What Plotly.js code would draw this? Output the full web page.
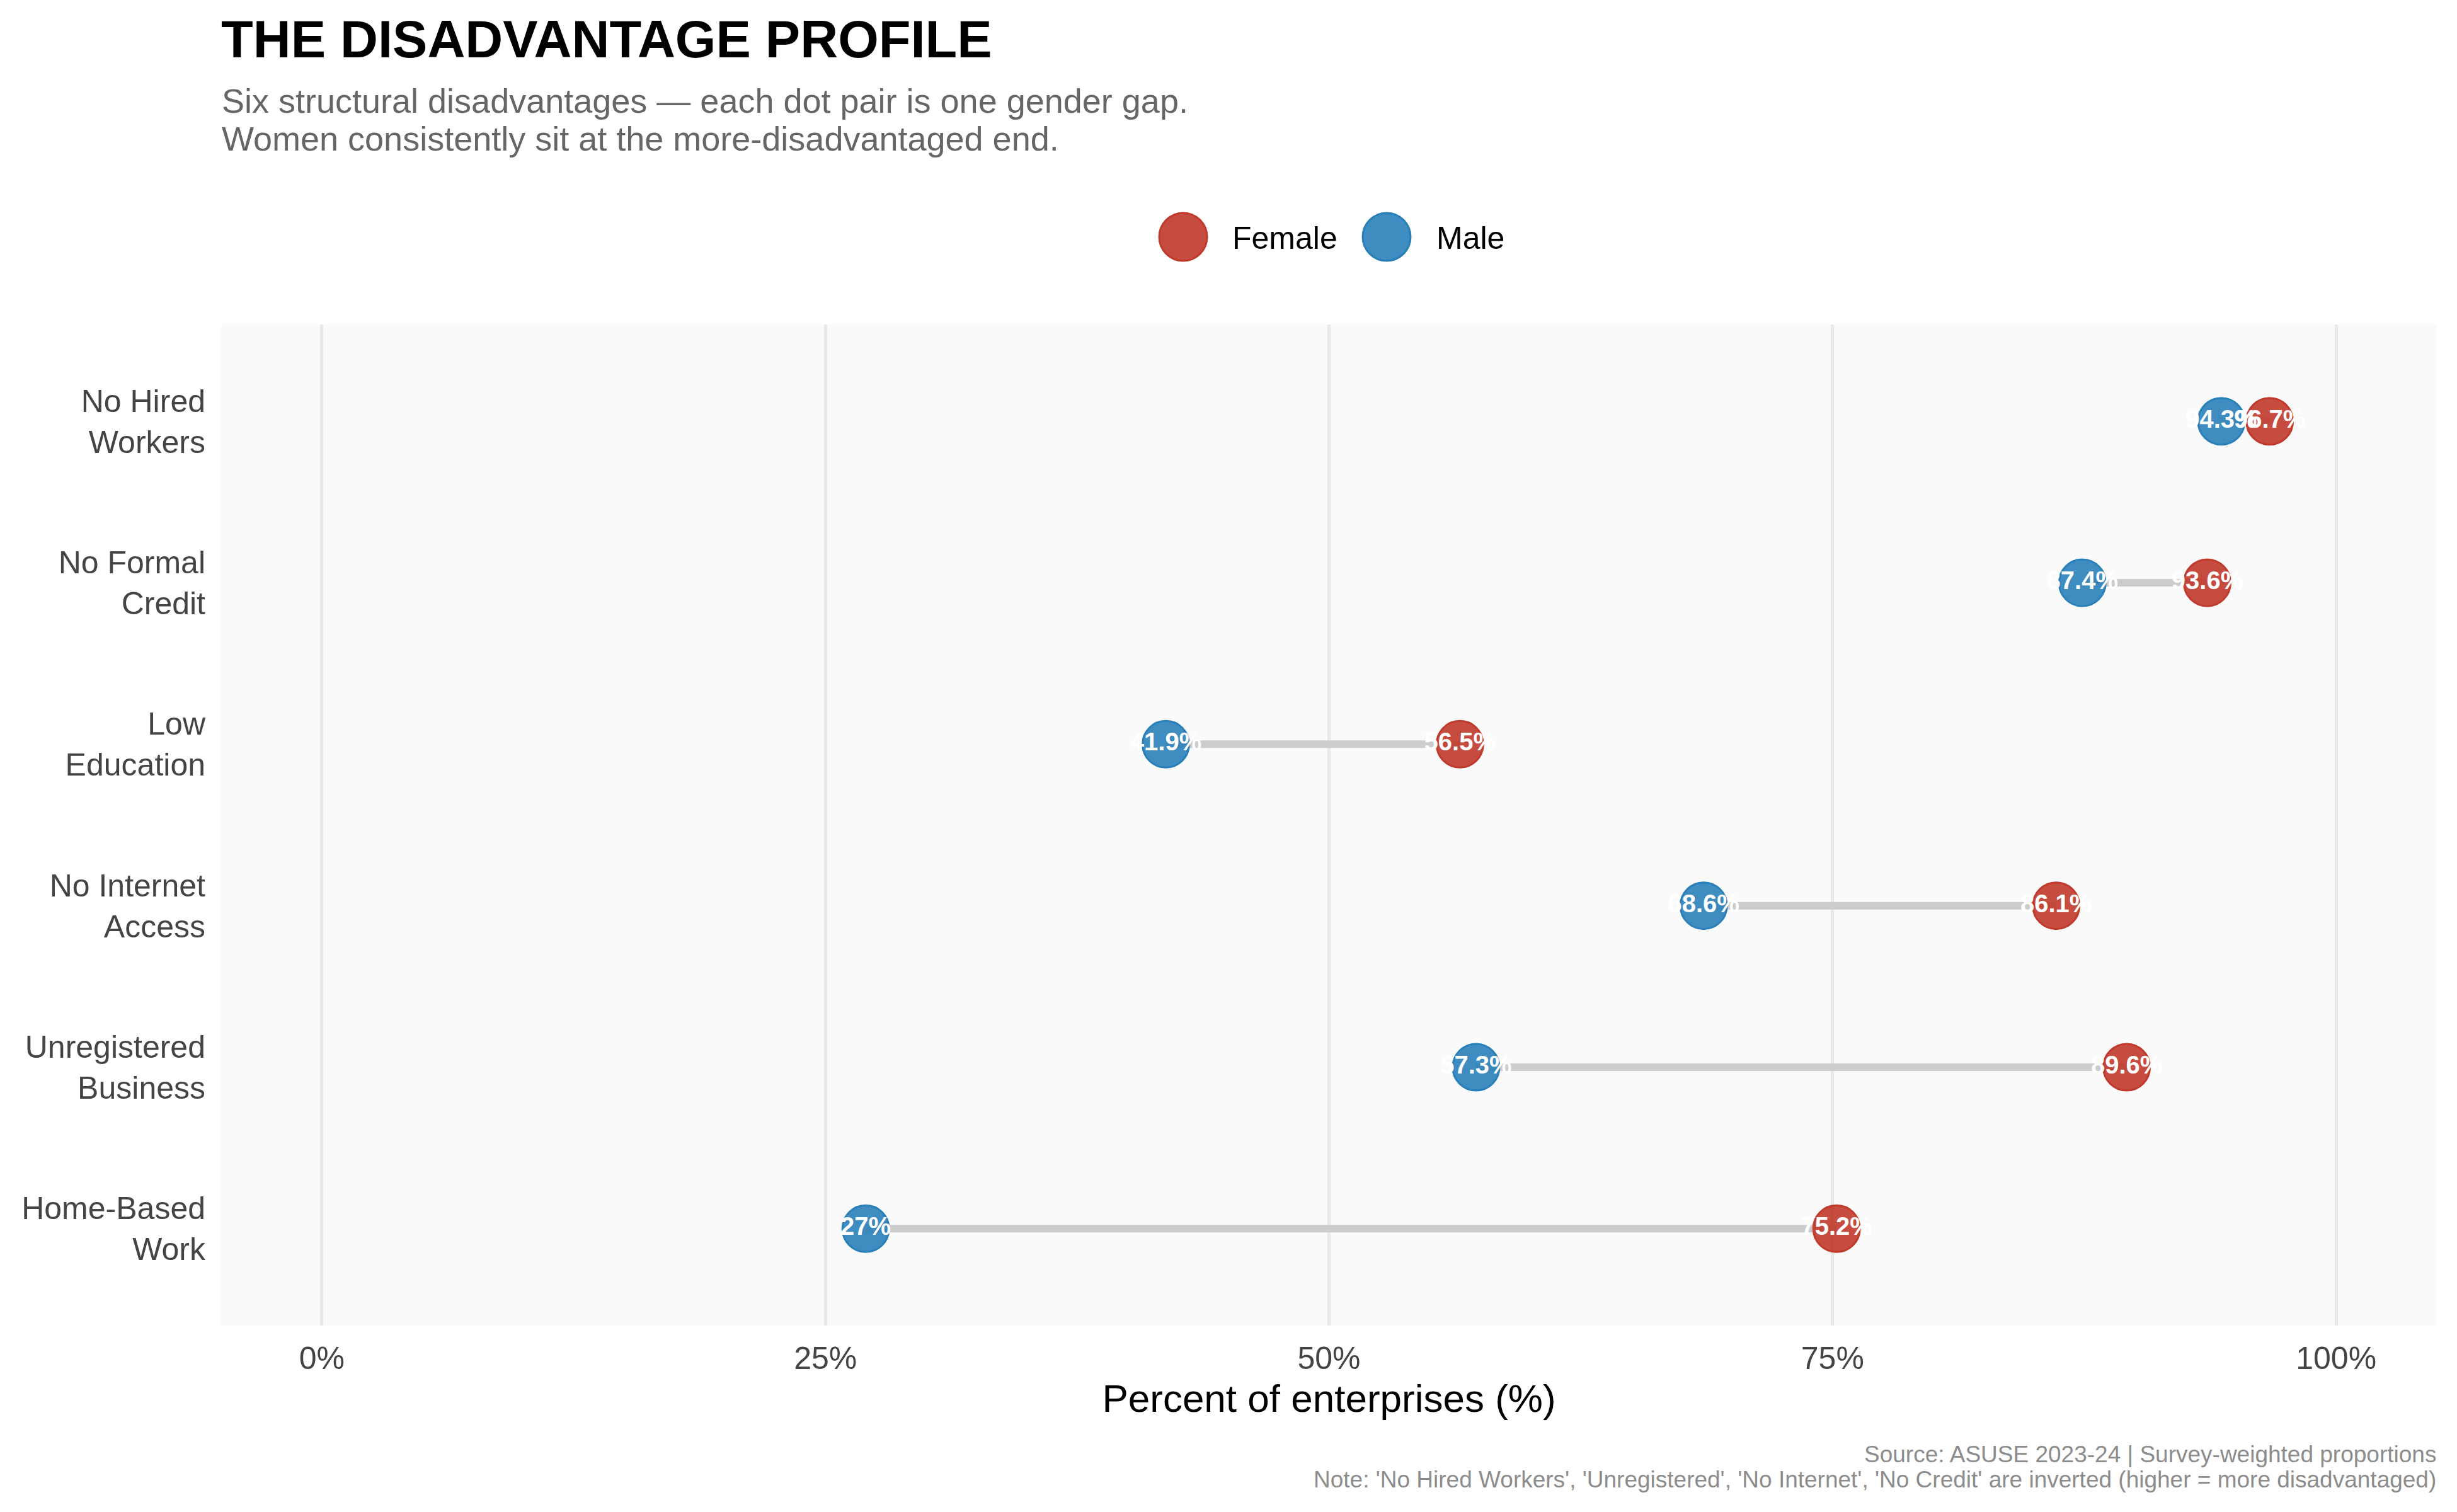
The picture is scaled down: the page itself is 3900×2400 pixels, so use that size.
<!DOCTYPE html>
<html>
<head>
<meta charset="utf-8">
<script src="https://cdn.plot.ly/plotly-3.0.1.min.js"></script>
<style>html,body{margin:0;padding:0;background:#fff;}#chart{width:3900px;height:2400px;}</style>
</head>
<body>
<div id="chart"></div>
<script>
// ---- data ----
const categories = ["No Hired Workers", "No Formal Credit", "Low Education", "No Internet Access", "Unregistered Business", "Home-Based Work"];
const tickLabels = ["No Hired<br>Workers", "No Formal<br>Credit", "Low<br>Education", "No Internet<br>Access", "Unregistered<br>Business", "Home-Based<br>Work"];
const femaleValues = [96.7, 93.6, 56.5, 86.1, 89.6, 75.2];
const maleValues = [94.3, 87.4, 41.9, 68.6, 57.3, 27.0];
const xTickVals = [0, 25, 50, 75, 100];
const xTickText = ["0%", "25%", "50%", "75%", "100%"];
const seriesNames = ["Female", "Male"];
const subtitleLines = ["Six structural disadvantages — each dot pair is one gender gap.", "Women consistently sit at the more-disadvantaged end."];

// ---- styling ----
const FONT = "Liberation Sans, Arial, Helvetica, sans-serif";
const FEMALE_FILL = "rgba(192,57,43,0.9)", FEMALE_LINE = "#c0392b";
const MALE_FILL = "rgba(41,128,185,0.9)", MALE_LINE = "#2980b9";
const MARKER_SIZE = 74;

const fmt = v => (Math.round(v * 10) / 10).toString() + "%";

// connecting segments
const segX = [], segY = [];
categories.forEach((c, i) => { segX.push(maleValues[i], femaleValues[i], null); segY.push(c, c, null); });

const labelFont = { family: FONT, size: 40, color: "#ffffff", weight: 700 };

const traces = [
  { type: "scatter", mode: "lines", x: segX, y: segY, line: { color: "#cccccc", width: 12 }, hoverinfo: "skip", showlegend: false },
  { type: "scatter", mode: "markers", name: seriesNames[1], x: maleValues, y: categories,
    marker: { size: MARKER_SIZE, color: MALE_FILL, line: { color: MALE_LINE, width: 3 } }, showlegend: false },
  { type: "scatter", mode: "markers", name: seriesNames[0], x: femaleValues, y: categories,
    marker: { size: MARKER_SIZE, color: FEMALE_FILL, line: { color: FEMALE_LINE, width: 3 } }, showlegend: false },
  { type: "scatter", mode: "text", x: maleValues, y: categories, text: maleValues.map(fmt), textposition: "middle center",
    textfont: labelFont, hoverinfo: "skip", showlegend: false },
  { type: "scatter", mode: "text", x: femaleValues, y: categories, text: femaleValues.map(fmt), textposition: "middle center",
    textfont: labelFont, hoverinfo: "skip", showlegend: false }
];

// plot area in px
const L = 351, R = 32, T = 515, B = 296, W = 3900, H = 2400;
const pw = W - L - R, ph = H - T - B;
const px2x = x => (x - L) / pw;
const px2y = y => (H - B - y) / ph;

const legendShape = (cx, fill, line) => ({
  type: "circle", xref: "paper", yref: "paper", xsizemode: "pixel", ysizemode: "pixel",
  xanchor: px2x(cx), yanchor: px2y(376), x0: -38, x1: 38, y0: -38, y1: 38,
  fillcolor: fill, line: { color: line, width: 3 }
});

const layout = {
  width: W, height: H,
  margin: { l: L, r: R, t: T, b: B, pad: 0 },
  paper_bgcolor: "#ffffff", plot_bgcolor: "#fafafa",
  font: { family: FONT, color: "#444444" },
  showlegend: false,
  title: { text: "THE DISADVANTAGE PROFILE", x: L / W, xref: "container", xanchor: "left",
    y: 1 - 62 / H, yref: "container", yanchor: "middle",
    font: { family: FONT, size: 83, color: "#000000", weight: 700 } },
  xaxis: {
    range: [-5, 105], tickvals: xTickVals, ticktext: xTickText, showgrid: true, gridcolor: "#e9e9e9", gridwidth: 5,
    zeroline: false, showline: false, ticks: "", tickfont: { size: 50, color: "#444444" }, ticklabelstandoff: 18,
    title: { text: "Percent of enterprises (%)", font: { size: 62, color: "#000000" }, standoff: 14 },
    automargin: false, fixedrange: true
  },
  yaxis: {
    type: "category", categoryorder: "array", categoryarray: categories, range: [5.6, -0.6],
    tickvals: categories, ticktext: tickLabels, showgrid: false, zeroline: false, showline: false, ticks: "",
    tickfont: { size: 50, color: "#444444" }, ticklabelstandoff: 24, automargin: false, fixedrange: true
  },
  shapes: [
    legendShape(1878, FEMALE_FILL, FEMALE_LINE),
    legendShape(2201, MALE_FILL, MALE_LINE)
  ],
  annotations: [
    { text: subtitleLines[0], xref: "paper", yref: "paper", x: 0, y: px2y(160), xanchor: "left", yanchor: "middle", align: "left",
      showarrow: false, font: { family: FONT, size: 54, color: "#666666" }, borderpad: 0 },
    { text: subtitleLines[1], xref: "paper", yref: "paper", x: 0, y: px2y(220), xanchor: "left", yanchor: "middle", align: "left",
      showarrow: false, font: { family: FONT, size: 54, color: "#666666" }, borderpad: 0 },
    { text: seriesNames[0], xref: "paper", yref: "paper", x: px2x(1955), y: px2y(378), xanchor: "left", yanchor: "middle",
      showarrow: false, font: { family: FONT, size: 50, color: "#000000" }, borderpad: 0 },
    { text: seriesNames[1], xref: "paper", yref: "paper", x: px2x(2279), y: px2y(378), xanchor: "left", yanchor: "middle",
      showarrow: false, font: { family: FONT, size: 50, color: "#000000" }, borderpad: 0 },
    { text: "Source: ASUSE 2023-24 | Survey-weighted proportions", xref: "paper", yref: "paper", x: 1, y: px2y(2308),
      xanchor: "right", yanchor: "middle", showarrow: false, font: { family: FONT, size: 37, color: "#8c8c8c" }, borderpad: 0 },
    { text: "Note: 'No Hired Workers', 'Unregistered', 'No Internet', 'No Credit' are inverted (higher = more disadvantaged)",
      xref: "paper", yref: "paper", x: 1, y: px2y(2348), xanchor: "right", yanchor: "middle", showarrow: false,
      font: { family: FONT, size: 37, color: "#8c8c8c" }, borderpad: 0 }
  ]
};

Plotly.newPlot("chart", traces, layout, { displayModeBar: false, staticPlot: true });
</script>
</body>
</html>
